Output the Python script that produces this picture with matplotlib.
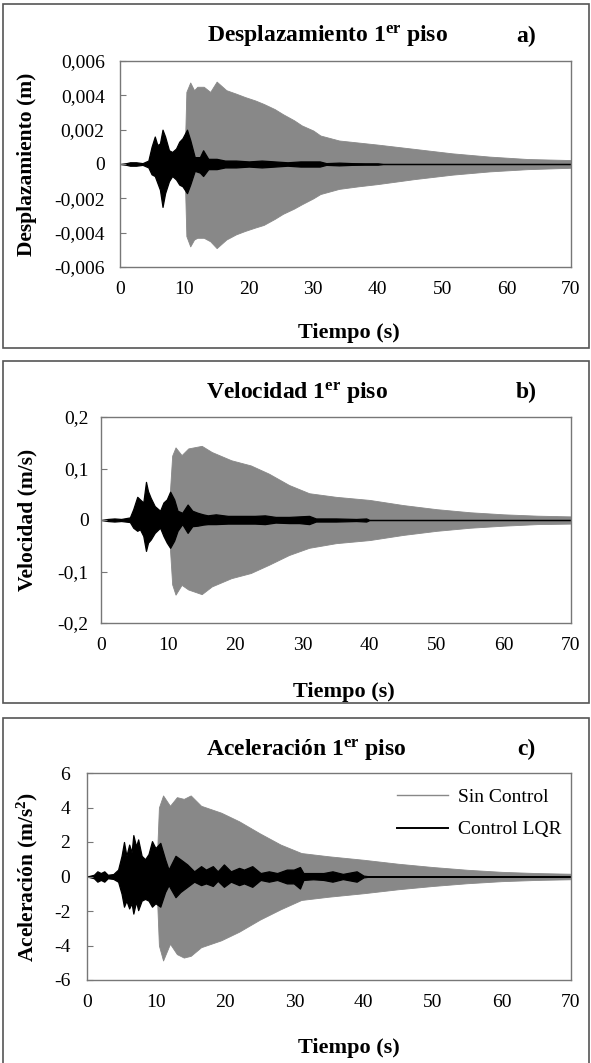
import matplotlib
matplotlib.use("Agg")
import matplotlib.pyplot as plt
from matplotlib.patches import Rectangle
from matplotlib.lines import Line2D

plt.rcParams['font.family'] = ['Liberation Serif', 'DejaVu Serif']
plt.rcParams['mathtext.fontset'] = 'custom'
plt.rcParams['mathtext.rm'] = 'Liberation Serif'
plt.rcParams['mathtext.bf'] = 'Liberation Serif:bold'
plt.rcParams['mathtext.it'] = 'Liberation Serif:italic'

# ---------------- data (envelopes) ----------------
x_ticks = [0, 10, 20, 30, 40, 50, 60, 70]

# a) Desplazamiento (m)
a_t_gray = [0, 10.0, 10.3, 10.9, 11.5, 12, 13, 14, 15, 16.5, 18, 19.4, 21, 22.3, 24, 25.3, 27, 28.2, 30, 31.1, 34, 37, 40, 45.7, 51.6, 57.4, 63.3, 70]
a_gray_up = [0, 0, 4.2e-3, 4.75e-3, 4.3e-3, 4.5e-3, 4.5e-3, 4.2e-3, 4.8e-3, 4.3e-3, 4.1e-3, 3.9e-3, 3.7e-3, 3.5e-3, 3.2e-3, 2.9e-3, 2.55e-3, 2.25e-3, 1.95e-3, 1.66e-3, 1.37e-3, 1.25e-3, 1.13e-3, 0.88e-3, 0.62e-3, 0.43e-3, 0.29e-3, 0.23e-3]
a_gray_lo = [0, 0, -4.2e-3, -4.8e-3, -4.4e-3, -4.3e-3, -4.3e-3, -4.5e-3, -4.9e-3, -4.4e-3, -4.1e-3, -3.9e-3, -3.7e-3, -3.55e-3, -3.2e-3, -2.9e-3, -2.6e-3, -2.35e-3, -2.0e-3, -1.75e-3, -1.45e-3, -1.3e-3, -1.17e-3, -0.88e-3, -0.62e-3, -0.43e-3, -0.3e-3, -0.22e-3]
a_t_black = [0, 1.0, 1.55, 2.5, 3.5, 4.4, 4.9, 5.4, 5.8, 6.2, 6.6, 7.0, 7.6, 8.1, 8.7, 9.2, 9.7, 10.4, 10.9, 11.6, 12.4, 12.9, 13.7, 15.0, 16.3, 18, 20, 22, 24, 26, 28, 30, 31, 32, 34, 36, 38, 40, 41, 70]
a_black_up = [0, 0.05e-3, 0.1e-3, 0.1e-3, 0.05e-3, 0.2e-3, 1.0e-3, 1.6e-3, 1.1e-3, 1.2e-3, 2.0e-3, 1.6e-3, 0.8e-3, 0.7e-3, 0.9e-3, 1.3e-3, 1.5e-3, 2.0e-3, 1.4e-3, 0.4e-3, 0.4e-3, 0.8e-3, 0.3e-3, 0.3e-3, 0.2e-3, 0.2e-3, 0.15e-3, 0.2e-3, 0.15e-3, 0.1e-3, 0.15e-3, 0.15e-3, 0.15e-3, 0.05e-3, 0.08e-3, 0.05e-3, 0.04e-3, 0.04e-3, 0, 0]
a_black_lo = [0, -0.05e-3, -0.1e-3, -0.1e-3, -0.05e-3, -0.2e-3, -0.6e-3, -0.7e-3, -1.1e-3, -1.5e-3, -2.5e-3, -1.7e-3, -1.0e-3, -0.7e-3, -0.9e-3, -1.2e-3, -1.3e-3, -1.7e-3, -1.2e-3, -0.4e-3, -0.5e-3, -0.7e-3, -0.3e-3, -0.3e-3, -0.2e-3, -0.2e-3, -0.15e-3, -0.2e-3, -0.15e-3, -0.1e-3, -0.15e-3, -0.15e-3, -0.15e-3, -0.05e-3, -0.08e-3, -0.05e-3, -0.04e-3, -0.04e-3, 0, 0]
a_yticks = [-0.006, -0.004, -0.002, 0, 0.002, 0.004, 0.006]
a_ylabels = ['-0,006', '-0,004', '-0,002', '0', '0,002', '0,004', '0,006']

# b) Velocidad (m/s)
b_t_gray = [0, 10.0, 10.6, 11.1, 12, 13, 15, 16.5, 19.4, 22.3, 25, 28, 31, 35, 40, 45, 50, 55, 60, 65, 70]
b_gray_up = [0, 0, 0.125, 0.141, 0.126, 0.139, 0.144, 0.132, 0.116, 0.106, 0.09, 0.068, 0.052, 0.045, 0.039, 0.029, 0.021, 0.015, 0.011, 0.0084, 0.007]
b_gray_lo = [0, 0, -0.125, -0.145, -0.126, -0.135, -0.144, -0.129, -0.113, -0.103, -0.087, -0.068, -0.054, -0.045, -0.039, -0.029, -0.021, -0.015, -0.011, -0.008, -0.007]
b_t_black = [0, 1, 2, 3, 4.3, 4.8, 5.4, 5.8, 6.3, 6.7, 7.0, 7.4, 8.0, 8.8, 9.3, 9.8, 10.3, 10.9, 11.4, 12.1, 12.9, 13.6, 14.4, 15.2, 15.9, 17.1, 18.9, 20.9, 22.9, 24.4, 26, 28, 29.5, 31, 32, 35, 38, 39.5, 40, 70]
b_black_up = [0, .002, .003, .002, .005, .021, .045, .04, .034, .074, .056, .043, .027, .018, .034, .04, .055, .04, .018, .014, .03, .018, .014, .011, .009, .011, .008, .008, .008, .009, .006, .006, .007, .008, .003, .003, .002, .003, 0, 0]
b_black_lo = [0, -.002, -.003, -.002, -.004, -.015, -.021, -.018, -.031, -.06, -.044, -.038, -.025, -.015, -.031, -.044, -.054, -.04, -.021, -.008, -.025, -.012, -.011, -.009, -.008, -.008, -.007, -.007, -.007, -.008, -.005, -.006, -.006, -.008, -.003, -.003, -.002, -.003, 0, 0]
b_yticks = [-0.2, -0.1, 0, 0.1, 0.2]
b_ylabels = ['-0,2', '-0,1', '0', '0,1', '0,2']

# c) Aceleración (m/s2)
c_t_gray = [0, 10.0, 10.4, 11, 12, 13, 14, 15, 16.5, 19.4, 22, 25, 28, 31, 35, 40, 45, 50, 55, 60, 65, 70]
c_gray_up = [0, 0, 4.0, 4.7, 4.1, 4.6, 4.5, 4.7, 4.1, 3.7, 3.2, 2.5, 1.85, 1.36, 1.17, 0.97, 0.74, 0.55, 0.39, 0.27, 0.2, 0.16]
c_gray_lo = [0, 0, -4.0, -4.87, -3.9, -4.5, -4.7, -4.6, -4.1, -3.7, -3.2, -2.5, -1.9, -1.36, -1.17, -0.97, -0.74, -0.55, -0.39, -0.27, -0.2, -0.16]
c_t_black = [0, 1, 1.5, 2, 2.5, 3, 3.8, 4.5, 5.0, 5.35, 5.7, 6.1, 6.45, 6.7, 7.1, 7.4, 7.9, 8.4, 8.9, 9.4, 9.9, 10.6, 11.3, 11.8, 12.8, 13.5, 14.5, 15.5, 16.5, 17.2, 18.2, 18.9, 19.8, 20.8, 22.0, 22.7, 23.9, 25.1, 26.3, 27.5, 28.9, 29.9, 30.8, 31.3, 32.7, 34.2, 35.5, 37, 39, 40, 41, 70]
c_black_up = [0, .1, .3, .2, .3, .1, .14, .4, 1.2, 2.0, 1.2, 1.85, 1.4, 2.4, 1.75, 2.15, 1.2, 1.0, 1.3, 2.05, 1.65, 1.95, 1.0, .4, 1.2, 1.0, .7, .3, .6, .4, .6, .3, .7, .3, .5, .4, .6, .2, .3, .2, .4, .4, .55, .2, .2, .2, .3, .15, .3, .05, 0, 0]
c_black_lo = [0, -.1, -.3, -.2, -.3, -.1, -.14, -.3, -1.0, -1.75, -1.4, -1.85, -1.55, -2.15, -1.45, -1.95, -1.4, -1.3, -1.4, -1.75, -1.55, -1.75, -.9, -.5, -1.2, -.9, -.6, -.3, -.5, -.4, -.55, -.25, -.6, -.3, -.5, -.4, -.6, -.2, -.3, -.2, -.4, -.4, -.7, -.2, -.16, -.2, -.3, -.15, -.3, -.05, 0, 0]
c_yticks = [-6, -4, -2, 0, 2, 4, 6]
c_ylabels = ['-6', '-4', '-2', '0', '2', '4', '6']

series_labels = ['Sin Control', 'Control LQR']
GRAY = '#888888'
SPINE = '#777777'

W, H = 591, 1063
fig = plt.figure(figsize=(W / 100, H / 100), dpi=100)


def px(x, y):
    return x / W, 1 - y / H


def box(x0, y0, x1, y1):
    fig.patches.append(Rectangle((x0 / W, 1 - y1 / H), (x1 - x0) / W, (y1 - y0) / H,
                                 transform=fig.transFigure, fill=False,
                                 edgecolor='#555555', linewidth=1.2))


def panel(rect_px, tg, gu, gl, tb, bu, bl, yticks, ylabels, ylim, ypad):
    l, t, r, b = rect_px
    ax = fig.add_axes([l / W, 1 - b / H, (r - l) / W, (b - t) / H])
    ax.fill_between(tg, gl, gu, color=GRAY, linewidth=0.6, edgecolor=GRAY)
    ax.fill_between(tb, bl, bu, color='black', linewidth=0.9, edgecolor='black')
    ax.set_xlim(0, 70)
    ax.set_ylim(*ylim)
    ax.set_xticks(x_ticks)
    ax.set_yticks(yticks)
    ax.set_yticklabels(ylabels)
    ax.tick_params(axis='x', length=0, pad=10, labelsize=14)
    ax.tick_params(axis='y', direction='in', length=4, color=SPINE, pad=ypad, labelsize=14)
    for s in ax.spines.values():
        s.set_color(SPINE)
        s.set_linewidth(1.0)
    return ax


TITLE_FS = 17
LABEL_FS = 16
YLABEL_FS = 15.5

# panel boxes
box(3, 4, 589, 348)
box(3, 361, 589, 703)
box(3, 718, 589, 1075)

# panel a
ax_a = panel((120, 61, 571, 267), a_t_gray, a_gray_up, a_gray_lo, a_t_black, a_black_up, a_black_lo,
             a_yticks, a_ylabels, (-0.006, 0.006), 11)
fig.text(*px(327, 36), r'Desplazamiento 1$^{\mathbf{er}}$ piso', ha='center', va='center', fontsize=TITLE_FS, fontweight='bold')
fig.text(*px(526, 36), 'a)', ha='center', va='center', fontsize=TITLE_FS, fontweight='bold')
fig.text(*px(27, 164), 'Desplazamiento (m)', rotation=90, ha='center', va='center', fontsize=YLABEL_FS, fontweight='bold')
fig.text(*px(349, 333), 'Tiempo (s)', ha='center', va='center', fontsize=LABEL_FS, fontweight='bold')

# panel b
ax_b = panel((101, 417, 571, 623), b_t_gray, b_gray_up, b_gray_lo, b_t_black, b_black_up, b_black_lo,
             b_yticks, b_ylabels, (-0.2, 0.2), 9)
fig.text(*px(297, 392), r'Velocidad 1$^{\mathbf{er}}$ piso', ha='center', va='center', fontsize=TITLE_FS, fontweight='bold')
fig.text(*px(526, 392), 'b)', ha='center', va='center', fontsize=TITLE_FS, fontweight='bold')
fig.text(*px(27, 520), 'Velocidad (m/s)', rotation=90, ha='center', va='center', fontsize=YLABEL_FS, fontweight='bold')
fig.text(*px(344, 692), 'Tiempo (s)', ha='center', va='center', fontsize=LABEL_FS, fontweight='bold')

# panel c
ax_c = panel((87, 773, 571, 980), c_t_gray, c_gray_up, c_gray_lo, c_t_black, c_black_up, c_black_lo,
             c_yticks, c_ylabels, (-6, 6), 12)
fig.text(*px(306, 749), r'Aceleración 1$^{\mathbf{er}}$ piso', ha='center', va='center', fontsize=TITLE_FS, fontweight='bold')
fig.text(*px(526, 749), 'c)', ha='center', va='center', fontsize=TITLE_FS, fontweight='bold')
fig.text(*px(27, 877), r'Aceleración (m/s$^{\mathbf{2}}$)', rotation=90, ha='center', va='center', fontsize=YLABEL_FS, fontweight='bold')
fig.text(*px(349, 1048), 'Tiempo (s)', ha='center', va='center', fontsize=LABEL_FS, fontweight='bold')

handles = [Line2D([], [], color=GRAY, linewidth=1.0), Line2D([], [], color='black', linewidth=1.4)]
ax_c.legend(handles, series_labels, loc='upper right', bbox_to_anchor=(1.012, 1.0), frameon=False,
            fontsize=14, handlelength=2.6, handletextpad=0.5, labelspacing=0.75, borderaxespad=0.4)

fig.savefig('out.png', dpi=100)
